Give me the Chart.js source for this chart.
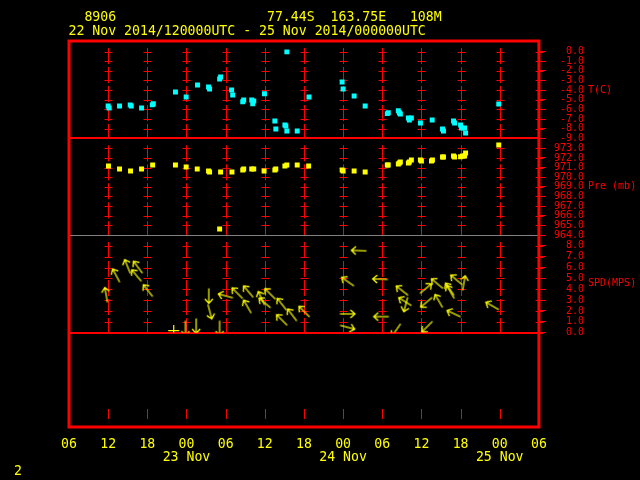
<!DOCTYPE html>
<html lang="en">
<head>
<meta charset="UTF-8">
<title>8906 meteogram</title>
<script src="https://cdn.jsdelivr.net/npm/chart.js"></script>
<style>
  html, body { margin: 0; padding: 0; background: #000; }
  canvas { display: block; }
</style>
</head>
<body>
<canvas id="chart" width="640" height="480"></canvas>
<script>
// header text
const headerLines = [
  '  8906                   77.44S  163.75E   108M',
  '22 Nov 2014/120000UTC - 25 Nov 2014/000000UTC'
];
const footNote = '2';

// time axis, hours since 22 Nov 00 UTC
const timeMin = 6, timeMax = 78;
const dayHours = [24, 48, 72];
const dayNames = ['23 Nov', '24 Nov', '25 Nov'];

// right hand panels
const panelTitles = ['T(C)', 'Pre (mb)', 'SPD(MPS)'];
const panelTitleAt = [-4, 969, 4.5];
const tRange = [-9, 1.1], tTop = 0;
const pRange = [964, 974.04], pTop = 973;
const wRange = [0, 9], wTop = 8;

// temperature (C)
const tHours = [12.0, 12.15, 13.74, 15.38, 15.54, 17.12, 18.77, 18.92, 22.31, 23.95,
  25.69, 27.38, 27.54, 29.08, 29.23, 30.92, 31.08, 32.62, 32.77, 34.0,
  34.15, 34.31, 35.95, 37.54, 37.69, 39.08, 39.23, 39.38, 39.38, 40.97,
  42.77, 47.85, 48.0, 49.69, 51.38, 54.77, 54.92, 56.46, 56.62, 56.77,
  58.0, 58.15, 58.46, 59.85, 61.65, 63.23, 63.38, 64.92, 65.08, 66.0,
  66.15, 66.62, 66.77, 71.85];
const tValues = [-5.64, -5.85, -5.64, -5.53, -5.64, -5.85, -5.53, -5.41, -4.19, -4.71,
  -3.46, -3.67, -3.88, -2.84, -2.63, -3.98, -4.50, -5.20, -5.02, -5.02,
  -5.41, -5.12, -4.37, -7.20, -8.04, -7.62, -7.72, -8.24, -0.03, -8.24,
  -4.71, -3.15, -3.88, -4.60, -5.64, -6.44, -6.34, -6.13, -6.34, -6.48,
  -6.89, -7.10, -6.89, -7.41, -7.10, -8.04, -8.24, -7.20, -7.41, -7.62,
  -7.93, -7.93, -8.45, -5.44];

// pressure (mb)
const pHours = [12.05, 13.74, 15.43, 17.12, 18.82, 22.31, 23.95, 25.65, 27.38, 27.54,
  29.08, 29.23, 30.97, 32.62, 32.77, 34.0, 34.31, 35.89, 37.54, 37.69,
  39.08, 39.38, 40.97, 42.72, 47.85, 48.0, 49.69, 51.38, 54.77, 54.92,
  56.46, 56.62, 56.77, 58.0, 58.15, 58.46, 59.85, 60.0, 61.54, 61.69,
  63.23, 63.38, 64.92, 65.08, 66.0, 66.31, 66.62, 66.77, 71.85];
const pValues = [971.16, 970.85, 970.64, 970.85, 971.27, 971.27, 971.06, 970.85, 970.64, 970.54,
  964.62, 970.54, 970.54, 970.75, 970.85, 970.85, 970.85, 970.64, 970.75, 970.85,
  971.16, 971.27, 971.27, 971.16, 970.75, 970.64, 970.64, 970.54, 971.27, 971.27,
  971.37, 971.47, 971.58, 971.47, 971.58, 971.79, 971.79, 971.68, 971.68, 971.79,
  972.10, 972.10, 972.20, 972.10, 972.13, 972.20, 972.20, 972.51, 973.34];

// wind speed (m/s) and arrow heading (deg clockwise from up)
const wHours = [11.69, 13.23, 14.97, 16.57, 16.35, 18.11, 23.85, 25.49, 27.43, 27.58,
  29.08, 30.0, 31.8, 33.49, 33.34, 35.49, 36.82, 36.0, 38.62, 38.62,
  40.2, 42.05, 48.72, 48.66, 48.66, 50.42, 53.69, 53.85, 56.15, 57.05,
  57.5, 57.6, 60.66, 60.77, 60.88, 62.42, 62.66, 64.35, 64.46, 64.97,
  65.38, 66.51, 70.88];
const wSpeed = [3.48, 5.26, 6.09, 6.03, 5.26, 3.87, 0.41, 0.62, 3.39, 1.94,
  0.41, 3.39, 3.63, 3.78, 2.40, 3.17, 3.57, 2.74, 2.62, 1.17,
  1.63, 1.94, 4.70, 1.73, 0.50, 7.56, 4.93, 1.48, 0.25, 3.87,
  2.86, 2.60, 4.06, 2.80, 0.55, 4.52, 2.92, 4.00, 3.75, 1.75,
  4.86, 4.56, 2.46];
const wDir = [350, 332, 338, 323, 320, 322, 180, 180, 180, 165,
  180, 285, 315, 320, 330, 335, 315, 310, 322, 315,
  323, 315, 305, 90, 105, 272, 272, 270, 215, 308,
  302, 195, 50, 230, 225, 310, 330, 325, 330, 295,
  310, 10, 300];
const calmHours = [22.05];
const calmSpeed = [0.2];

const RED = '#ff0000', YEL = '#ffff00', CYAN = '#00ffff', GREY = '#808080';
const MONO = 'DejaVu Sans Mono';

function arrowSprite() {
  const c = document.createElement('canvas');
  c.width = 18; c.height = 18;
  const g = c.getContext('2d');
  g.strokeStyle = YEL;
  g.lineWidth = 1.2;
  g.beginPath();
  g.moveTo(9, 16.5); g.lineTo(9, 1.5);
  g.moveTo(5, 6); g.lineTo(9, 1.5); g.lineTo(13, 6);
  g.stroke();
  return c;
}

const pts = (xs, ys) => xs.map((x, i) => ({x: x, y: ys[i]}));

function rightAxis(range, top, weight) {
  return {
    type: 'linear', position: 'right', stack: 'panels', stackWeight: weight,
    min: range[0], max: range[1],
    border: {display: false},
    grid: {drawOnChartArea: false, drawTicks: true, tickLength: 7, color: RED},
    afterBuildTicks: axis => { axis.ticks = axis.ticks.filter(t => t.value <= top + 1e-6); },
    ticks: {
      stepSize: 1, autoSkip: false, color: RED, crossAlign: 'far', padding: 4,
      font: {family: MONO, size: 10},
      callback: v => v.toFixed(1).padStart(5, ' ')
    }
  };
}

// grid crosses, separators and frame
const panelDecor = {
  id: 'panelDecor',
  beforeDatasetsDraw(chart) {
    const {ctx, chartArea: a, scales} = chart;
    const xs = scales.x;
    const panels = [scales.yT, scales.yP, scales.yW];
    const gridHours = xs.ticks.map(t => t.value).filter(v => v > timeMin);
    ctx.save();
    ctx.strokeStyle = RED;
    ctx.lineWidth = 1;
    gridHours.forEach(h => {
      const px = Math.round(xs.getPixelForValue(h)) + 0.5;
      panels.forEach(sc => {
        if (h < timeMax) {
          ctx.setLineDash([16, 3]);
          ctx.beginPath();
          ctx.moveTo(px, sc.top + 7);
          ctx.lineTo(px, sc.bottom);
          ctx.stroke();
          ctx.setLineDash([]);
        }
        sc.ticks.forEach(t => {
          const py = Math.round(sc.getPixelForValue(t.value)) + 0.5;
          ctx.beginPath();
          ctx.moveTo(px - 4, py);
          ctx.lineTo(px + 4, py);
          ctx.stroke();
        });
      });
      if (h < timeMax) {
        ctx.beginPath();
        ctx.moveTo(px, a.bottom - 18);
        ctx.lineTo(px, a.bottom - 8);
        ctx.stroke();
      }
    });
    // panel separators
    const sep = [[scales.yT.bottom, RED, 2], [scales.yP.bottom, GREY, 1], [scales.yW.bottom, RED, 2]];
    sep.forEach(([y, col, w]) => {
      ctx.strokeStyle = col;
      ctx.lineWidth = w;
      ctx.beginPath();
      ctx.moveTo(a.left, Math.round(y) + (w % 2 ? 0.5 : 0));
      ctx.lineTo(a.right, Math.round(y) + (w % 2 ? 0.5 : 0));
      ctx.stroke();
    });
    ctx.restore();
  },
  afterDatasetsDraw(chart) {
    const {ctx, chartArea: a} = chart;
    ctx.save();
    ctx.strokeStyle = RED;
    ctx.lineWidth = 3;
    ctx.strokeRect(a.left, a.top, a.right - a.left, a.bottom - a.top);
    ctx.restore();
  },
  afterDraw(chart) {
    const {ctx, scales} = chart;
    ctx.save();
    ctx.textBaseline = 'middle';
    ctx.textAlign = 'left';
    ctx.fillStyle = YEL;
    ctx.font = '13.2px "' + MONO + '"';
    ctx.fillText(headerLines[0], 68.5, 18);
    ctx.fillText(headerLines[1], 68.5, 31.5);
    ctx.fillText(footNote, 14, 472);
    ctx.fillStyle = RED;
    ctx.font = '10px "' + MONO + '"';
    [scales.yT, scales.yP, scales.yW].forEach((sc, i) => {
      ctx.fillText(panelTitles[i], 588, sc.getPixelForValue(panelTitleAt[i]));
    });
    ctx.restore();
  }
};

new Chart(document.getElementById('chart'), {
  type: 'scatter',
  data: {
    datasets: [
      {label: 'T(C)', data: pts(tHours, tValues), yAxisID: 'yT',
       pointStyle: 'rect', pointRadius: 3.5, pointBackgroundColor: CYAN, pointBorderWidth: 0},
      {label: 'Pre (mb)', data: pts(pHours, pValues), yAxisID: 'yP',
       pointStyle: 'rect', pointRadius: 3.5, pointBackgroundColor: YEL, pointBorderWidth: 0},
      {label: 'SPD(MPS)', data: pts(wHours, wSpeed), yAxisID: 'yW',
       pointStyle: arrowSprite(), pointRotation: wDir, pointRadius: 8},
      {label: 'calm', data: pts(calmHours, calmSpeed), yAxisID: 'yW',
       pointStyle: 'cross', pointRadius: 5.5, pointBorderColor: YEL, pointBorderWidth: 1.2}
    ]
  },
  options: {
    responsive: false,
    animation: false,
    devicePixelRatio: 1,
    layout: {padding: {left: 69, top: 41, right: 56, bottom: 4.6}},
    plugins: {legend: {display: false}, tooltip: {enabled: false}},
    scales: {
      x: {
        type: 'linear', position: 'bottom', min: timeMin, max: timeMax,
        border: {display: false},
        grid: {display: false, drawTicks: false},
        ticks: {
          stepSize: 6, autoSkip: false, maxRotation: 0, minRotation: 0, padding: 11,
          color: YEL, font: {family: MONO, size: 13.2, lineHeight: 1},
          callback: v => {
            const hh = String(v % 24).padStart(2, '0');
            const k = dayHours.indexOf(v);
            return k < 0 ? hh : [hh, dayNames[k]];
          }
        }
      },
      yT: rightAxis(tRange, tTop, 97.3),
      yP: rightAxis(pRange, pTop, 96.7),
      yW: rightAxis(wRange, wTop, 97.7),
      yE: {
        type: 'linear', position: 'right', stack: 'panels', stackWeight: 94.3,
        min: 0, max: 1,
        border: {display: false},
        grid: {display: false, drawTicks: false},
        ticks: {display: false}
      }
    }
  },
  plugins: [panelDecor]
});
</script>
</body>
</html>
